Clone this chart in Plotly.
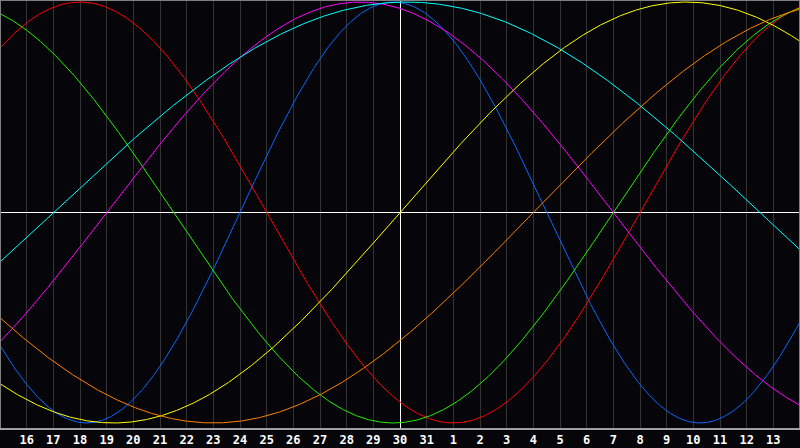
import numpy as np
import plotly.graph_objects as go

# Biorhythm cycles (period in days) and their colours
cycle_names = ["Physical", "Emotional", "Intellectual", "Intuitive", "Aesthetic", "Awareness", "Spiritual"]
cycle_periods = [23, 28, 33, 38, 43, 48, 53]
cycle_colors = ["#0a66ff", "#ff0000", "#22ee00", "#ff00ff", "#ffff00", "#ff8000", "#00ffff"]

# days lived at the centre day of the chart (day 30)
days_lived_at_center = 20683

# day labels, one per gridline (offset -14 .. +14 from centre)
day_offsets = list(range(-14, 15))
day_labels = ["16", "17", "18", "19", "20", "21", "22", "23", "24", "25", "26", "27", "28", "29",
              "30", "31", "1", "2", "3", "4", "5", "6", "7", "8", "9", "10", "11", "12", "13"]

x = np.linspace(-15, 15, 1501)

fig = go.Figure()
for name, period, color in zip(cycle_names, cycle_periods, cycle_colors):
    y = np.sin(2 * np.pi * (days_lived_at_center + x) / period)
    fig.add_trace(go.Scatter(x=x, y=y, mode="lines", name=name,
                             line=dict(color=color, width=1), hoverinfo="skip"))

bg = "#05050a"
fig.update_layout(
    width=800, height=448,
    margin=dict(l=0, r=0, t=0, b=20),
    paper_bgcolor=bg, plot_bgcolor=bg,
    showlegend=False,
    xaxis=dict(range=[-15, 15], tickvals=day_offsets, ticktext=day_labels,
               showgrid=True, gridcolor="#333333", gridwidth=1,
               zeroline=True, zerolinecolor="#ffffff", zerolinewidth=1,
               showline=True, linecolor="#a0a0a0", linewidth=2,
               ticks="", ticklen=0,
               tickfont=dict(family="DejaVu Sans Mono", size=12, color="#ffffff", weight="bold"),
               fixedrange=True),
    yaxis=dict(range=[-1.0238, 1.0095], showgrid=False, showticklabels=False,
               zeroline=True, zerolinecolor="#ffffff", zerolinewidth=1,
               ticks="", fixedrange=True),
    shapes=[
        dict(type="line", xref="paper", yref="paper", x0=0, x1=1, y0=1, y1=1,
             line=dict(color="#808080", width=2)),
        dict(type="line", xref="paper", yref="paper", x0=0, x1=0, y0=0, y1=1,
             line=dict(color="#808080", width=2)),
        dict(type="line", xref="paper", yref="paper", x0=1, x1=1, y0=0, y1=1,
             line=dict(color="#808080", width=2)),
    ],
)

fig.write_html("out.html", config={"displayModeBar": False},
               post_script="document.body.style.margin='0';document.body.style.background='" + bg + "';")
